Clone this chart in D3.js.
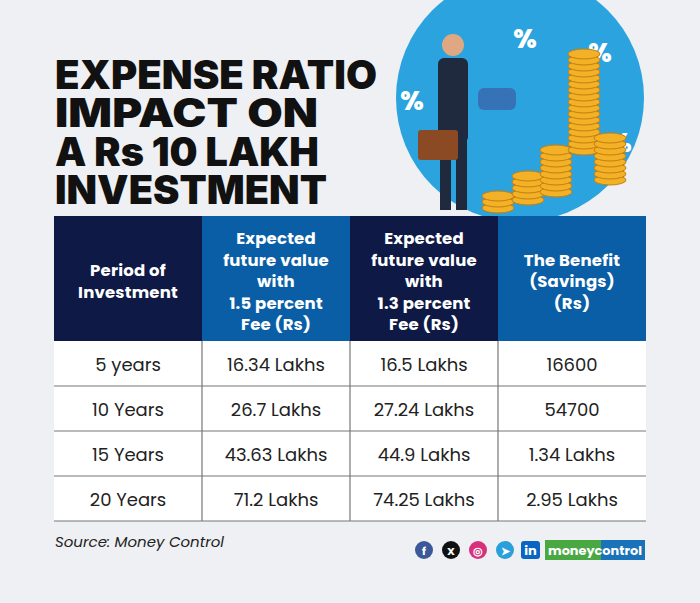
<!DOCTYPE html>
<html><head><meta charset="utf-8">
<script src="https://cdn.jsdelivr.net/npm/d3@7"></script>
<style>body{margin:0;background:#eef0f3;}svg{display:block;font-family:Poppins,Inter,"Noto Sans",sans-serif;}</style>
</head><body>
<script>
const titleLines = ["EXPENSE RATIO","IMPACT ON","A Rs 10 LAKH","INVESTMENT"];
const headers = [["Period  of","Investment"],["Expected","future value","with","1.5 percent","Fee (Rs)"],["Expected","future value","with","1.3 percent","Fee (Rs)"],["The Benefit","(Savings)","(Rs)"]];
const periods = ["5 years","10 Years","15 Years","20 Years"];
const fee15 = ["16.34 Lakhs","26.7 Lakhs","43.63 Lakhs","71.2 Lakhs"];
const fee13 = ["16.5 Lakhs","27.24 Lakhs","44.9 Lakhs","74.25 Lakhs"];
const benefit = ["16600","54700","1.34 Lakhs","2.95 Lakhs"];
const headColors = ["#0e1945","#0a5ea6","#0e1945","#0a5ea6"];

const w = 700, h = 603;
const svg = d3.select("body").append("svg").attr("width",w).attr("height",h);
svg.append("rect").attr("width",w).attr("height",h).attr("fill","#eef0f3");

// illustration backdrop
svg.append("circle").attr("cx",520).attr("cy",98).attr("r",124).attr("fill","#2aa3de");
[[525,48],[412,110],[620,152],[600,62]].forEach(p=>svg.append("text").attr("x",p[0]).attr("y",p[1])
  .attr("fill","#fff").attr("font-size",26).attr("font-weight",800).attr("text-anchor","middle").text("%"));
const coins=[[498,208,3],[528,200,5],[556,192,8],[584,150,17],[610,180,8]];
coins.forEach(c=>{for(let i=0;i<c[2];i++)svg.append("ellipse").attr("cx",c[0]).attr("cy",c[1]-i*6)
  .attr("rx",16).attr("ry",5).attr("fill","#f2b126").attr("stroke","#c47f10").attr("stroke-width",1);});
// person
svg.append("rect").attr("x",438).attr("y",58).attr("width",30).attr("height",85).attr("rx",6).attr("fill","#1f2a3e");
svg.append("circle").attr("cx",453).attr("cy",45).attr("r",11).attr("fill","#e0a882");
svg.append("rect").attr("x",440).attr("y",140).attr("width",11).attr("height",70).attr("fill","#1f2a3e");
svg.append("rect").attr("x",456).attr("y",140).attr("width",11).attr("height",70).attr("fill","#1f2a3e");
svg.append("rect").attr("x",418).attr("y",130).attr("width",40).attr("height",30).attr("rx",3).attr("fill","#8b4a24");
svg.append("rect").attr("x",478).attr("y",88).attr("width",38).attr("height",22).attr("rx",6).attr("fill","#3573b6");

// title
svg.append("g").selectAll("text").data(titleLines).join("text")
  .attr("x",55).attr("y",(d,i)=>89+i*38.5)
  .attr("font-family","Inter, sans-serif").attr("font-weight",900).attr("font-size",33)
  .attr("fill","#111").attr("textLength",(d,i)=>[322,263,264,272][i]).attr("lengthAdjust","spacingAndGlyphs")
  .attr("transform",(d,i)=>`translate(0,${89+i*38.5}) scale(1,1.2) translate(0,${-(89+i*38.5)})`)
  .text(d=>d);

// table
const x = d3.scaleBand().domain(d3.range(4)).range([54,646]);
const y = d3.scaleBand().domain(d3.range(4)).range([341,521]);
const headTop = 216;
const hg = svg.append("g");
hg.selectAll("rect").data(headers).join("rect")
  .attr("x",(d,i)=>x(i)).attr("y",headTop).attr("width",x.bandwidth()).attr("height",341-headTop)
  .attr("fill",(d,i)=>headColors[i]);
headers.forEach((lines,i)=>{
  const lh = 21.5, cy = 281, y0 = cy - (lines.length-1)*lh/2;
  hg.append("text").attr("text-anchor","middle").attr("fill","#fff").attr("font-size",16.5).attr("font-weight",700)
    .attr("letter-spacing",0.2)
    .selectAll("tspan").data(lines).join("tspan")
    .attr("x",x(i)+x.bandwidth()/2).attr("y",(d,j)=>y0+j*lh+6).text(d=>d);
});
const rows = periods.map((p,i)=>[p,fee15[i],fee13[i],benefit[i]]);
const bg = svg.append("g");
bg.append("rect").attr("x",54).attr("y",341).attr("width",592).attr("height",180).attr("fill","#fff");
rows.forEach((r,i)=>{
  bg.append("line").attr("x1",54).attr("x2",646).attr("y1",y(i)+y.bandwidth()).attr("y2",y(i)+y.bandwidth())
    .attr("stroke","#777").attr("stroke-width",1.2);
  bg.selectAll(null).data(r).join("text").attr("x",(d,j)=>x(j)+x.bandwidth()/2).attr("y",y(i)+y.bandwidth()/2+7)
    .attr("text-anchor","middle").attr("font-size",18).attr("fill","#222").text(d=>d);
});
[1,2,3].forEach(j=>bg.append("line").attr("x1",x(j)).attr("x2",x(j)).attr("y1",341).attr("y2",521)
  .attr("stroke","#777").attr("stroke-width",1.2));

// footer
svg.append("text").attr("x",55).attr("y",547).attr("font-size",15).attr("font-style","italic").attr("fill","#222")
  .text("Source: Money Control");
const icons=[["#3b5998","f"],["#111","X"],["#d6317a","◎"],["#2aa0da","➤"]];
icons.forEach((c,i)=>{const cx=424+i*27;
  svg.append("circle").attr("cx",cx).attr("cy",550).attr("r",9).attr("fill",c[0]);
  svg.append("text").attr("x",cx).attr("y",554.5).attr("text-anchor","middle").attr("font-size",11).attr("font-weight",700).attr("fill","#fff").text(c[1]);});
svg.append("rect").attr("x",521).attr("y",541).attr("width",19).attr("height",18).attr("rx",3).attr("fill","#0a66c2");
svg.append("text").attr("x",530.5).attr("y",555).attr("text-anchor","middle").attr("font-size",13).attr("font-weight",700).attr("fill","#fff").text("in");
svg.append("rect").attr("x",545).attr("y",540).attr("width",56).attr("height",20).attr("fill","#4aa842");
svg.append("rect").attr("x",601).attr("y",540).attr("width",44).attr("height",20).attr("fill","#1a72b8");
svg.append("text").attr("x",548).attr("y",555).attr("font-size",13).attr("font-weight",700).attr("fill","#fff")
  .attr("textLength",94).attr("lengthAdjust","spacingAndGlyphs").text("moneycontrol");
</script>
</body></html>
